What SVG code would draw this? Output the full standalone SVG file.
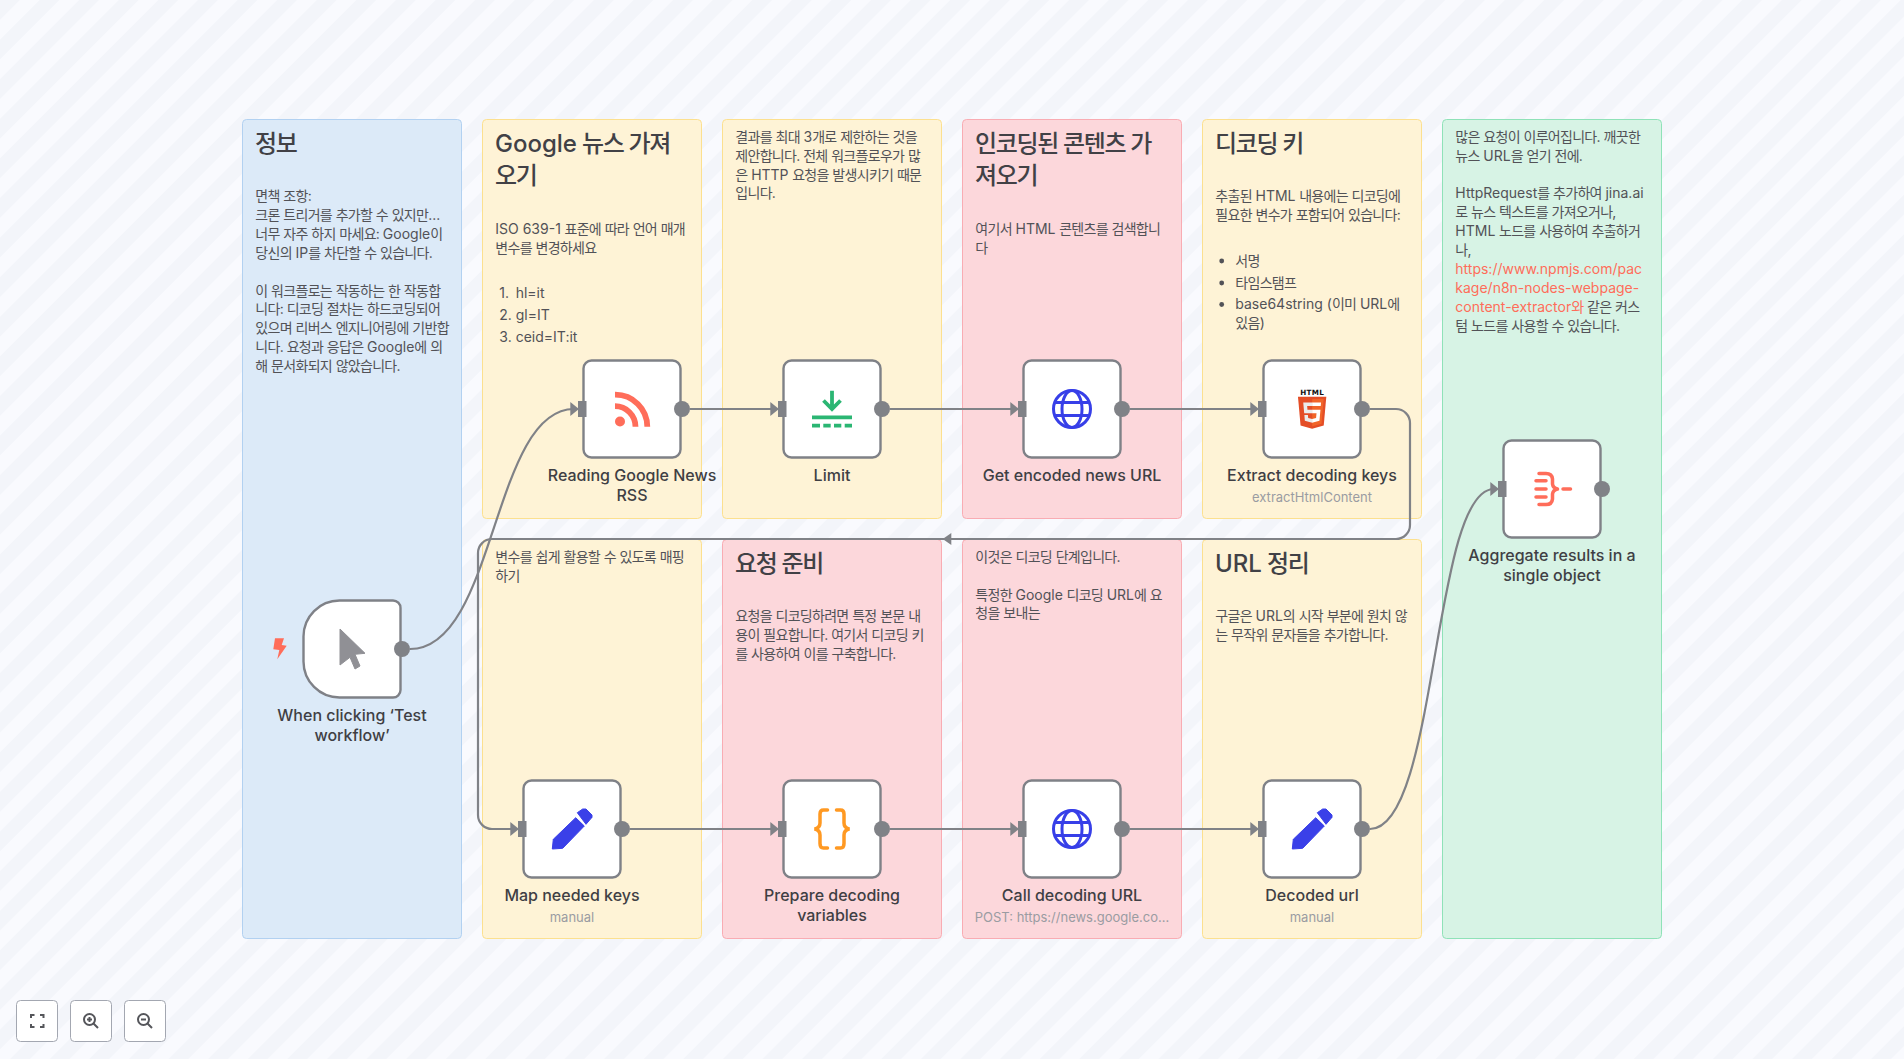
<svg xmlns="http://www.w3.org/2000/svg" width="1904" height="1059" viewBox="0 0 1904 1059">
<style>
text{font-family:Inter,"Noto Sans CJK KR","Noto Sans",sans-serif}
.body{font-size:14px;fill:#525257;letter-spacing:-.7px;word-spacing:.4px}
.title{font-size:24px;font-weight:500;fill:#414146;letter-spacing:-1.35px}
.l{letter-spacing:0;word-spacing:0}
.label{font-size:16px;font-weight:450;fill:#3f3f44;text-anchor:middle}
.sub{font-size:13px;fill:#9a9ca2;text-anchor:middle}
.link{fill:#ff6d5a}
.sy{stroke:#fce08f;fill:#fef3d6}
.sr{stroke:#f9acb3;fill:#fcd7db}
.sb{stroke:#b2d1f1;fill:#dceaf8}
.sg{stroke:#8fe2b8;fill:#d7f3e5}
.n{fill:#fff;stroke:#7f8187;stroke-width:2.4}
.edge{fill:none;stroke:#808287;stroke-width:2.2}
.port{fill:#808287}
.ctl{fill:#fff;stroke:#a3a7b1;stroke-width:1}
.ci{fill:none;stroke:#55565b;stroke-width:2}
.globe{fill:none;stroke:#373fe8;stroke-width:3}
.or{fill:none;stroke:#ff9922;stroke-width:3.5;stroke-linecap:round}
.red{fill:none;stroke:#ff6d5a;stroke-width:3.5;stroke-linecap:round}
.gr{fill:none;stroke:#2bb673;stroke-width:3.8}
</style>
<defs>
<pattern id="bg" width="28" height="28" patternUnits="userSpaceOnUse" patternTransform="rotate(45)">
<rect width="28" height="28" fill="#f9fafe"/><rect width="14" height="28" fill="#f3f5fa"/>
</pattern>
<g id="in"><rect x="-8" y="-8" width="8.500" height="16" class="port"/><polygon points="-15.7,-7 -7,0 -15.7,7" class="port"/></g>
<circle id="out" r="8" class="port"/>
<g id="pencil" fill="#3a40e8" stroke="#3a40e8" stroke-width="1" stroke-linejoin="round">
<polygon points="-18.7,10.3 3.7,-11.3 12.3,-3 -9.3,19.3 -19.7,20"/>
<polygon points="5.3,-16.3 10.7,-20 14,-20 20,-14 20,-11.7 14,-4.7"/>
</g>
<g id="globe" class="globe"><circle r="18.5"/><ellipse rx="10" ry="18.5"/><path d="M-16.5-6.5H16.500M-16.5 6.500H16.500"/></g>
</defs>
<rect id="background" width="1904" height="1059" fill="url(#bg)"/>

<g id="sticky-info"><rect x="242.5" y="119.5" width="219" height="819" rx="4" class="sb"/>
<text class="title" x="255" y="152">정보</text>
<text class="body" x="255.3" y="201">면책 조항:</text>
<text class="body" x="255.3" y="219.9">크론 트리거를 추가할 수 있지만<tspan class="l">...</tspan></text>
<text class="body" x="255.3" y="238.8">너무 자주 하지 마세요: <tspan class="l">Google</tspan>이</text>
<text class="body" x="255.3" y="257.7">당신의 <tspan class="l">IP</tspan>를 차단할 수 있습니다.</text>
<text class="body" x="255.3" y="295.5">이 워크플로는 작동하는 한 작동합</text>
<text class="body" x="255.3" y="314.4">니다: 디코딩 절차는 하드코딩되어</text>
<text class="body" x="255.3" y="333.3">있으며 리버스 엔지니어링에 기반합</text>
<text class="body" x="255.3" y="352.2">니다. 요청과 응답은 <tspan class="l">Google</tspan>에 의</text>
<text class="body" x="255.3" y="371.1">해 문서화되지 않았습니다.</text>
</g>
<g id="sticky-fetch"><rect x="482.5" y="119.5" width="219" height="399" rx="4" class="sy"/>
<text class="title" x="495" y="152"><tspan class="l">Google</tspan> 뉴스 가져</text>
<text class="title" x="495" y="184">오기</text>
<text class="body" x="495.3" y="234"><tspan class="l">ISO 639-1</tspan> 표준에 따라 언어 매개</text>
<text class="body" x="495.3" y="252.9">변수를 변경하세요</text>
<text class="body l" x="499.3" y="298">1.</text><text class="body l" x="515.7" y="298">hl=it</text>
<text class="body l" x="499.3" y="320">2.</text><text class="body l" x="515.7" y="320">gl=IT</text>
<text class="body l" x="499.3" y="342">3.</text><text class="body l" x="515.7" y="342">ceid=IT:it</text>
</g>
<g id="sticky-limit"><rect x="722.5" y="119.5" width="219" height="399" rx="4" class="sy"/>
<text class="body" x="735.3" y="141.7">결과를 최대 <tspan class="l">3</tspan>개로 제한하는 것을</text>
<text class="body" x="735.3" y="160.6">제안합니다. 전체 워크플로우가 많</text>
<text class="body" x="735.3" y="179.5">은 <tspan class="l">HTTP</tspan> 요청을 발생시키기 때문</text>
<text class="body" x="735.3" y="198.4">입니다.</text>
</g>
<g id="sticky-encoded"><rect x="962.5" y="119.5" width="219" height="399" rx="4" class="sr"/>
<text class="title" x="975" y="152">인코딩된 콘텐츠 가</text>
<text class="title" x="975" y="184">져오기</text>
<text class="body" x="975.3" y="234">여기서 <tspan class="l">HTML</tspan> 콘텐츠를 검색합니</text>
<text class="body" x="975.3" y="252.9">다</text>
</g>
<g id="sticky-keys"><rect x="1202.5" y="119.5" width="219" height="399" rx="4" class="sy"/>
<text class="title" x="1215" y="152">디코딩 키</text>
<text class="body" x="1215.3" y="201">추출된 <tspan class="l">HTML</tspan> 내용에는 디코딩에</text>
<text class="body" x="1215.3" y="219.9">필요한 변수가 포함되어 있습니다:</text>
<circle cx="1221.7" cy="261" r="2.4" fill="#525257"/>
<circle cx="1221.7" cy="283" r="2.4" fill="#525257"/>
<circle cx="1221.7" cy="304.5" r="2.4" fill="#525257"/>
<text class="body" x="1235.3" y="265.7">서명</text>
<text class="body" x="1235.3" y="287.5">타임스탬프</text>
<text class="body" x="1235.3" y="309"><tspan class="l">base64string (</tspan>이미 <tspan class="l">URL</tspan>에</text>
<text class="body" x="1235.3" y="327.9">있음)</text>
</g>
<g id="sticky-aggregate"><rect x="1442.5" y="119.5" width="219" height="819" rx="4" class="sg"/>
<text class="body" x="1455.3" y="141.7">많은 요청이 이루어집니다. 깨끗한</text>
<text class="body" x="1455.3" y="160.6">뉴스 <tspan class="l">URL</tspan>을 얻기 전에.</text>
<text class="body" x="1455.3" y="198.4"><tspan class="l">HttpRequest</tspan>를 추가하여 <tspan class="l">jina.ai</tspan></text>
<text class="body" x="1455.3" y="217.3">로 뉴스 텍스트를 가져오거나,</text>
<text class="body" x="1455.3" y="236.2"><tspan class="l">HTML</tspan> 노드를 사용하여 추출하거</text>
<text class="body" x="1455.3" y="255.1">나,</text>
<text class="body link l" x="1455.3" y="274">https://www.npmjs.com/pac</text>
<text class="body link l" x="1455.3" y="292.9">kage/n8n-nodes-webpage-</text>
<text class="body" x="1455.3" y="311.8"><tspan class="link l">content-extractor</tspan><tspan class="link">와</tspan> 같은 커스</text>
<text class="body" x="1455.3" y="330.7">텀 노드를 사용할 수 있습니다.</text>
</g>
<g id="sticky-map"><rect x="482.5" y="539.5" width="219" height="399" rx="4" class="sy"/>
<text class="body" x="495.3" y="561.7">변수를 쉽게 활용할 수 있도록 매핑</text>
<text class="body" x="495.3" y="580.6">하기</text>
</g>
<g id="sticky-prepare"><rect x="722.5" y="539.5" width="219" height="399" rx="4" class="sr"/>
<text class="title" x="735" y="572">요청 준비</text>
<text class="body" x="735.3" y="621">요청을 디코딩하려면 특정 본문 내</text>
<text class="body" x="735.3" y="639.9">용이 필요합니다. 여기서 디코딩 키</text>
<text class="body" x="735.3" y="658.8">를 사용하여 이를 구축합니다.</text>
</g>
<g id="sticky-decode"><rect x="962.5" y="539.5" width="219" height="399" rx="4" class="sr"/>
<text class="body" x="975.3" y="561.7">이것은 디코딩 단계입니다.</text>
<text class="body" x="975.3" y="599.5">특정한 <tspan class="l">Google</tspan> 디코딩 <tspan class="l">URL</tspan>에 요</text>
<text class="body" x="975.3" y="618.4">청을 보내는</text>
</g>
<g id="sticky-clean"><rect x="1202.5" y="539.5" width="219" height="399" rx="4" class="sy"/>
<text class="title" x="1215" y="572"><tspan class="l">URL</tspan> 정리</text>
<text class="body" x="1215.3" y="621">구글은 <tspan class="l">URL</tspan>의 시작 부분에 원치 않</text>
<text class="body" x="1215.3" y="639.9">는 무작위 문자들을 추가합니다.</text>
</g>

<g id="connectors">
<path class="edge" d="M410 649C496 649 492 409 574 409"/>
<path class="edge" d="M690 409H776"/>
<path class="edge" d="M890 409H1016"/>
<path class="edge" d="M1130 409H1256"/>
<path class="edge" d="M1370 409H1396A14 14 0 0 1 1410 423V525A14 14 0 0 1 1396 539H492A14 14 0 0 0 478 553V815A14 14 0 0 0 492 829H516"/>
<polygon class="port" points="942.7,539 951.3,533 951.3,545"/>
<path class="edge" d="M630 829H776"/>
<path class="edge" d="M890 829H1016"/>
<path class="edge" d="M1130 829H1256"/>
<path class="edge" d="M1370 829C1438 829 1432 489 1494 489"/>
</g>

<g id="node-trigger">
<path class="n" d="M339.500 600.500H393A7.500 7.500 0 0 1 400.500 608V690A7.500 7.500 0 0 1 393 697.500H339.500A36 36 0 0 1 303.500 661.500V636.500A36 36 0 0 1 339.500 600.500Z"/>
<use href="#out" x="402" y="649"/>
<polygon points="340,629 365,653.3 355,654.3 360,666 355,669 350,657.3 340,665" fill="#909095" stroke="#909095" stroke-width="1" stroke-linejoin="round"/>
<polygon points="275,638.3 284,638.3 281.7,645 286.7,645.7 277.3,659.3 279.3,650 273.3,649.3" fill="#ff6d5a"/>
<text class="label" x="352" y="721">When clicking ‘Test</text>
<text class="label" x="352" y="741">workflow’</text>
</g>
<g id="node-rss">
<rect class="n" x="583.500" y="360.500" width="97" height="97" rx="8"/>
<use href="#in" x="586" y="409"/><use href="#out" x="682" y="409"/>
<circle cx="620" cy="421.5" r="5" fill="#ff6d5a"/>
<path d="M615 394.7A32 32 0 0 1 647.3 426.7M615 406.2A20.5 20.5 0 0 1 635.5 426.7" fill="none" stroke="#ff6d5a" stroke-width="5.8"/>
<text class="label" x="632" y="481">Reading Google News</text>
<text class="label" x="632" y="501">RSS</text>
</g>
<g id="node-limit">
<rect class="n" x="783.500" y="360.500" width="97" height="97" rx="8"/>
<use href="#in" x="786" y="409"/><use href="#out" x="882" y="409"/>
<path class="gr" d="M832 390.700V407M823.500 400.500L832 409L840.500 400.500"/>
<path class="gr" d="M812 417.3H852"/>
<path class="gr" d="M812 425.7H820M823.300 425.700H830.700M834 425.700H841.300M844.700 425.700H852"/>
<text class="label" x="832" y="481">Limit</text>
</g>
<g id="node-encoded">
<rect class="n" x="1023.500" y="360.500" width="97" height="97" rx="8"/>
<use href="#in" x="1026" y="409"/><use href="#out" x="1122" y="409"/>
<use href="#globe" x="1072" y="409"/>
<text class="label" x="1072" y="481">Get encoded news URL</text>
</g>
<g id="node-extract">
<rect class="n" x="1263.500" y="360.500" width="97" height="97" rx="8"/>
<use href="#in" x="1266" y="409"/><use href="#out" x="1362" y="409"/>
<text x="1312" y="394.500" text-anchor="middle" textLength="23.700" style="font-family:'DejaVu Sans',sans-serif;font-size:7.200px;font-weight:700" fill="#111">HTML</text>
<g transform="translate(1296.1 396.7) scale(.0628)">
<polygon points="71,460 30,0 481,0 440,460 255,512" fill="#e44d26"/>
<polygon points="256,472 405,431 440,37 256,37" fill="#f16529"/>
<polygon points="256,208 181,208 176,150 256,150 256,94 114,94 115,109 129,265 256,265" fill="#ebebeb"/>
<polygon points="256,355 192,338 188,293 132,293 139,382 256,414" fill="#ebebeb"/>
<polygon points="255,208 255,265 325,265 318,338 255,355 255,414 372,382 388,208" fill="#fff"/>
<polygon points="255,94 255,150 392,150 397,94" fill="#fff"/>
</g>
<text class="label" x="1312" y="481">Extract decoding keys</text>
<text class="sub" x="1312" y="501.500">extractHtmlContent</text>
</g>
<g id="node-aggregate">
<rect class="n" x="1503.500" y="440.500" width="97" height="97" rx="8"/>
<use href="#in" x="1506" y="489"/><use href="#out" x="1602" y="489"/>
<path class="red" d="M1536 480.700H1546M1536 489H1546M1536 497H1546M1563 489H1570.500"/>
<path class="red" d="M1539 473.500H1546Q1552 473.500 1552.500 479V484Q1553 488 1557.500 489Q1553 490 1552.500 494V499Q1552 504.500 1546 504.500H1539" stroke-linejoin="round"/>
<text class="label" x="1552" y="561">Aggregate results in a</text>
<text class="label" x="1552" y="581">single object</text>
</g>
<g id="node-map">
<rect class="n" x="523.500" y="780.500" width="97" height="97" rx="8"/>
<use href="#in" x="526" y="829"/><use href="#out" x="622" y="829"/>
<use href="#pencil" x="572" y="829"/>
<text class="label" x="572" y="901">Map needed keys</text>
<text class="sub" x="572" y="921.500">manual</text>
</g>
<g id="node-prepare">
<rect class="n" x="783.500" y="780.500" width="97" height="97" rx="8"/>
<use href="#in" x="786" y="829"/><use href="#out" x="882" y="829"/>
<path class="or" d="M827.500 810H823.500Q820 810 820 814V823Q820 828 814.500 829Q820 830 820 835V843.500Q820 848 823.500 848H827.500"/>
<path class="or" d="M836.500 810H840.500Q844 810 844 814V823Q844 828 849.500 829Q844 830 844 835V843.500Q844 848 840.500 848H836.500"/>
<text class="label" x="832" y="901">Prepare decoding</text>
<text class="label" x="832" y="921">variables</text>
</g>
<g id="node-decode">
<rect class="n" x="1023.500" y="780.500" width="97" height="97" rx="8"/>
<use href="#in" x="1026" y="829"/><use href="#out" x="1122" y="829"/>
<use href="#globe" x="1072" y="829"/>
<text class="label" x="1072" y="901">Call decoding URL</text>
<text class="sub" x="1072" y="921.500">POST: https://news.google.co...</text>
</g>
<g id="node-decoded">
<rect class="n" x="1263.500" y="780.500" width="97" height="97" rx="8"/>
<use href="#in" x="1266" y="829"/><use href="#out" x="1362" y="829"/>
<use href="#pencil" x="1312" y="829"/>
<text class="label" x="1312" y="901">Decoded url</text>
<text class="sub" x="1312" y="921.500">manual</text>
</g>

<g id="controls">
<rect class="ctl" x="16.500" y="1000.500" width="41" height="41" rx="4"/>
<path class="ci" d="M31 1018V1015H34.500M40 1015H43.500V1018M43.500 1024V1027H40M34.500 1027H31V1024"/>
<rect class="ctl" x="70.500" y="1000.500" width="41" height="41" rx="4"/>
<circle class="ci" cx="89.500" cy="1019.500" r="5.500"/><path class="ci" d="M93.500 1023.500L98 1028M87 1019.500H92M89.500 1017V1022"/>
<rect class="ctl" x="124.500" y="1000.500" width="41" height="41" rx="4"/>
<circle class="ci" cx="143.500" cy="1019.500" r="5.500"/><path class="ci" d="M147.500 1023.500L152 1028M141 1019.500H146"/>
</g>
</svg>
